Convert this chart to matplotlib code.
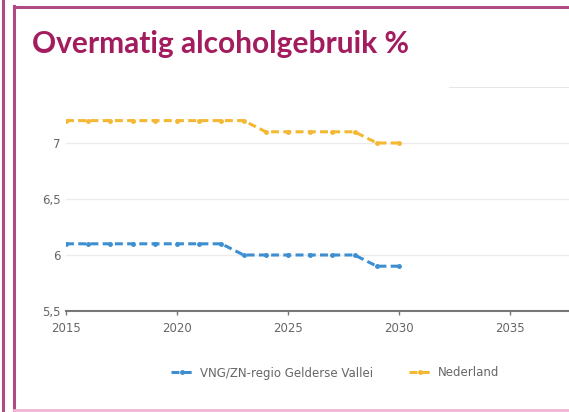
import matplotlib.pyplot as plt
from matplotlib.lines import Line2D

# data
years = [2015, 2016, 2017, 2018, 2019, 2020, 2021, 2022, 2023, 2024,
         2025, 2026, 2027, 2028, 2029, 2030]
regio = [6.1, 6.1, 6.1, 6.1, 6.1, 6.1, 6.1, 6.1, 6.0, 6.0,
         6.0, 6.0, 6.0, 6.0, 5.9, 5.9]
nederland = [7.2, 7.2, 7.2, 7.2, 7.2, 7.2, 7.2, 7.2, 7.2, 7.1,
             7.1, 7.1, 7.1, 7.1, 7.0, 7.0]
y_ticks = [5.5, 6, 6.5, 7]
y_labels = ["5,5", "6", "6,5", "7"]
x_ticks = [2015, 2020, 2025, 2030, 2035]

blue = "#3d8fd1"
yellow = "#f4b833"
frame = "#b24a82"

fig = plt.figure(figsize=(5.69, 4.12), dpi=100)

# frame of the slide
fig.add_artist(Line2D([3 / 569, 3 / 569], [0, 1], color=frame, lw=2.2))
fig.add_artist(Line2D([14 / 569, 14 / 569], [0, 1 - 6 / 412], color=frame, lw=2.2))
fig.add_artist(Line2D([14 / 569, 1], [1 - 7 / 412, 1 - 7 / 412], color=frame, lw=2.2))
fig.add_artist(Line2D([14 / 569, 1], [2 / 412, 2 / 412], color="#f2b6d6", lw=2))

fig.text(32 / 569, 1 - 44 / 412, "Overmatig alcoholgebruik %", fontsize=21.5,
         fontweight="bold", family="Lato", color="#a31c5e", va="center", ha="left")

ax = fig.add_axes([66 / 569, 101 / 412, 555 / 569, 224 / 412])
ax.set_xlim(2015, 2040)
ax.set_ylim(5.5, 7.5)

for yv in [6, 6.5, 7]:
    ax.axhline(yv, color="#ececec", lw=1, zorder=0)
ax.axhline(7.5, xmin=(2032.3 - 2015) / 25, color="#e6e6e6", lw=1.5, zorder=0)

ax.plot(years, regio, color=blue, lw=2.2, ls=(0, (2.6, 1.4)), marker="o",
        ms=2.5, label="VNG/ZN-regio Gelderse Vallei")
ax.plot(years, nederland, color=yellow, lw=2.2, ls=(0, (2.6, 1.4)), marker="o",
        ms=2.5, label="Nederland")

for s in ["top", "right", "left"]:
    ax.spines[s].set_visible(False)
ax.spines["bottom"].set_color("#777777")
ax.spines["bottom"].set_linewidth(1.5)

ax.set_xticks(x_ticks)
ax.set_xticklabels([str(x) for x in x_ticks])
ax.set_yticks(y_ticks)
ax.set_yticklabels(y_labels)
ax.tick_params(axis="x", length=3, width=1, color="#777777", colors="#666666",
               labelsize=8.5, pad=5)
ax.tick_params(axis="y", length=0, colors="#666666", labelsize=8.5, pad=4)

fig.legend(loc="center", bbox_to_anchor=(335 / 569, 1 - 373 / 412), ncol=2,
           frameon=False, fontsize=8.5, labelcolor="#666666", handlelength=2.0,
           columnspacing=3.0, handletextpad=0.5)

fig.savefig("out.png", dpi=100)
